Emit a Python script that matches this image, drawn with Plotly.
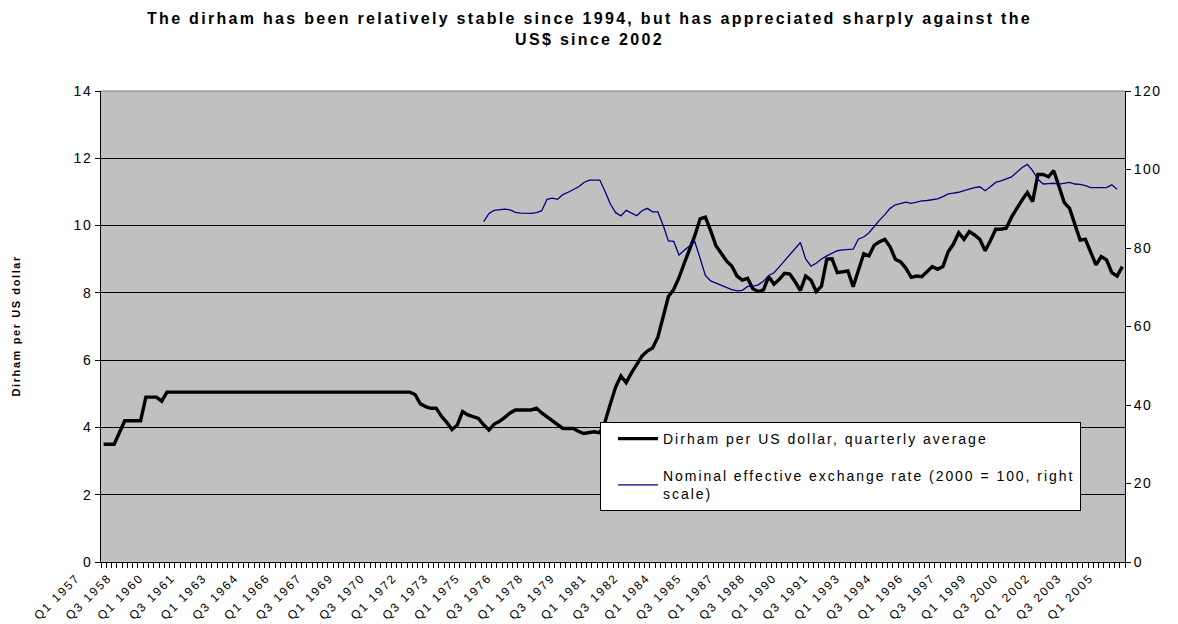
import plotly.graph_objects as go

# ---- data ----
years = list(range(1957, 2006))
quarters = [f"Q{q} {y}" for y in years for q in (1, 2, 3, 4)][:194]

dirham_per_usd = [
    3.50, 3.50, 3.50, 3.85, 4.20, 4.20, 4.20, 4.20, 4.90, 4.90,
    4.90, 4.78, 5.05, 5.05, 5.05, 5.05, 5.05, 5.05, 5.05, 5.05,
    5.05, 5.05, 5.05, 5.05, 5.05, 5.05, 5.05, 5.05, 5.05, 5.05,
    5.05, 5.05, 5.05, 5.05, 5.05, 5.05, 5.05, 5.05, 5.05, 5.05,
    5.05, 5.05, 5.05, 5.05, 5.05, 5.05, 5.05, 5.05, 5.05, 5.05,
    5.05, 5.05, 5.05, 5.05, 5.05, 5.05, 5.05, 5.05, 5.05, 4.98,
    4.70, 4.62, 4.57, 4.57, 4.33, 4.15, 3.94, 4.07, 4.47, 4.37,
    4.33, 4.27, 4.08, 3.92, 4.10, 4.18, 4.30, 4.43, 4.52, 4.53,
    4.52, 4.52, 4.57, 4.43, 4.32, 4.22, 4.08, 3.97, 3.97, 3.97,
    3.88, 3.82, 3.85, 3.87, 3.84, 4.17, 4.70, 5.20, 5.53, 5.33,
    5.62, 5.87, 6.12, 6.27, 6.36, 6.68, 7.28, 7.89, 8.10, 8.45,
    8.88, 9.28, 9.70, 10.20, 10.25, 9.85, 9.40, 9.18, 8.95, 8.80,
    8.50, 8.38, 8.43, 8.12, 8.04, 8.09, 8.48, 8.26, 8.40, 8.58,
    8.56, 8.33, 8.07, 8.50, 8.38, 8.04, 8.20, 9.00, 9.01, 8.60,
    8.63, 8.65, 8.18, 8.68, 9.16, 9.10, 9.42, 9.52, 9.59, 9.37,
    9.00, 8.92, 8.73, 8.46, 8.50, 8.48, 8.63, 8.78, 8.70, 8.78,
    9.22, 9.45, 9.79, 9.59, 9.82, 9.72, 9.59, 9.25, 9.55, 9.89,
    9.89, 9.92, 10.25, 10.53, 10.76, 10.98, 10.71, 11.52, 11.52, 11.45,
    11.63, 11.16, 10.68, 10.51, 10.02, 9.57, 9.59, 9.18, 8.83, 9.08,
    8.98, 8.60, 8.50, 8.78,
]

neer_values = [
    86.7, 88.8, 89.6, 89.8, 89.9, 89.7, 89.1, 88.9,
    88.8, 88.8, 89.0, 89.5, 92.4, 92.7, 92.4, 93.6, 94.2, 94.8,
    95.6, 96.7, 97.3, 97.3, 97.3, 94.4, 91.2, 89.0, 88.2, 89.6,
    89.0, 88.2, 89.5, 90.1, 89.2, 89.2, 85.8, 81.8, 81.7, 78.2,
    79.4, 80.6, 81.6, 77.4, 73.0, 71.6, 71.0, 70.5, 69.8, 69.4,
    69.1, 69.2, 70.2, 70.2, 70.6, 71.5, 73.0, 73.7, 75.2, 76.8,
    78.3, 79.9, 81.4, 77.2, 75.4, 76.1, 77.2, 78.0, 78.6, 79.3,
    79.5, 79.6, 79.7, 82.3, 82.8, 83.9, 85.6, 87.1, 88.5, 90.1,
    91.0, 91.3, 91.7, 91.4, 91.8, 92.0, 92.1, 92.3, 92.5, 93.1,
    93.8, 94.0, 94.2, 94.6, 95.1, 95.4, 95.6, 94.6, 95.6, 96.7,
    97.1, 97.5, 98.1, 99.3, 100.5, 101.3, 99.7, 97.5, 96.3, 96.4,
    96.5, 96.3, 96.5, 96.7, 96.3, 96.2, 95.9, 95.4, 95.4, 95.4,
    95.4, 96.1, 95.0,
]
neer_start = quarters.index("Q1 1975")
neer = [None] * neer_start + neer_values
neer += [None] * (len(quarters) - len(neer))

left_ticks = [0, 2, 4, 6, 8, 10, 12, 14]
right_ticks = [0, 20, 40, 60, 80, 100, 120]

title_lines = ["The dirham has been relatively stable since 1994, but has appreciated sharply against the",
               "US$ since 2002"]
name_dirham = ["Dirham per US dollar, quarterly average"]
name_neer = ["Nominal effective exchange rate (2000 = 100, right", "scale)"]
ytitle = "Dirham per US dollar"


def sp(lines, ls):
    if isinstance(lines, str):
        lines = [lines]
    return "<br>".join(f"<span style='letter-spacing:{ls}px'>{t}</span>" for t in lines)


# ---- figure ----
FONT = "Arial, Liberation Sans, sans-serif"
idx = list(range(len(quarters)))
label_pos = idx[::6]
label_txt = [sp(t, 1.9) for t in quarters[::6]]

fig = go.Figure()
fig.add_trace(go.Scatter(
    x=idx, y=dirham_per_usd, name=sp(name_dirham, 2.0), mode="lines",
    line=dict(color="black", width=3.4), legendgroup="a",
))
fig.add_trace(go.Scatter(
    x=idx, y=neer, name=sp(name_neer, 1.95), mode="lines", yaxis="y2",
    line=dict(color="#000080", width=1.3), legendgroup="b",
    connectgaps=False,
))

fig.update_layout(
    width=1178, height=624,
    margin=dict(l=101, r=53, t=91, b=62, autoexpand=False),
    paper_bgcolor="white",
    plot_bgcolor="#C0C0C0",
    font=dict(family=FONT, size=14, color="black"),
    showlegend=True,
    legend=dict(
        x=(600 - 101) / 1024, y=(562 - 422) / 471, xanchor="left", yanchor="top",
        bgcolor="white", bordercolor="black", borderwidth=1,
        font=dict(family=FONT, size=14, color="black"),
        tracegroupgap=16, itemwidth=40, indentation=12,
    ),
    xaxis=dict(
        range=[-0.5, len(quarters) - 0.5], automargin=False,
        tickmode="array", tickvals=label_pos, ticktext=label_txt,
        tickangle=-45, tickfont=dict(size=12),
        ticklabelshift=-27, ticklabelstandoff=3,
        ticks="", showgrid=False, zeroline=False,
        showline=True, linecolor="black", linewidth=1,
        minor=dict(tickmode="linear", tick0=-0.5, dtick=1, ticks="outside",
                   ticklen=5, tickcolor="black", showgrid=False),
    ),
    yaxis=dict(
        range=[0, 14], tickmode="array", tickvals=left_ticks, automargin=False,
        ticktext=[sp(str(v), 1.5) for v in left_ticks],
        ticks="outside", ticklen=5, tickcolor="black",
        showgrid=True, gridcolor="black", gridwidth=1,
        zeroline=False, showline=True, linecolor="black", linewidth=1,
    ),
    yaxis2=dict(
        range=[0, 120], tickmode="array", tickvals=right_ticks, automargin=False,
        ticktext=[sp(str(v), 1.5) for v in right_ticks],
        overlaying="y", side="right",
        ticks="outside", ticklen=5, tickcolor="black",
        showgrid=False, zeroline=False,
        showline=True, linecolor="black", linewidth=1,
    ),
    shapes=[dict(type="line", xref="paper", yref="paper", x0=0, x1=1, y0=1, y1=1,
                 line=dict(color="#808080", width=1), layer="above")],
    annotations=[
        dict(text=sp(title_lines, 2.3), xref="paper", yref="paper",
             x=(589 - 101) / 1024, y=1 + (91 - 8) / 471,
             xanchor="center", yanchor="top", showarrow=False, align="center",
             font=dict(family=FONT, size=16, color="black", weight="bold")),
        dict(text=sp(ytitle, 1.6), xref="paper", yref="paper",
             x=(15 - 101) / 1024, y=0.5, xanchor="center", yanchor="middle",
             textangle=-90, showarrow=False,
             font=dict(family=FONT, size=11, color="black", weight="bold")),
    ],
)

fig.write_html("out.html")
